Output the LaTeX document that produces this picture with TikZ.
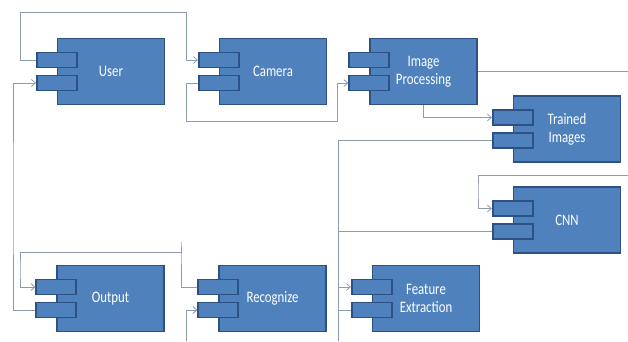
\documentclass[tikz,border=0pt]{standalone}
\usepackage{fontspec}
\setmainfont{Carlito}[FakeStretch=0.8]
\usetikzlibrary{arrows.meta}
\definecolor{compfill}{HTML}{4F81BD}
\definecolor{compline}{HTML}{2E5183}
\definecolor{linkgray}{HTML}{8C9DB2}
\begin{document}
\begin{tikzpicture}[x=1pt, y=-1pt, >={Straight Barb[length=4pt,width=7pt]}]
      \tikzset{
  component/.style={
    rectangle,
    draw=compline,
    fill=compfill,
    line width=1.6pt,
    minimum width=107pt,
    minimum height=66pt,
    text=white,
    align=center,
    font=\fontsize{16}{18}\selectfont
  },
  tab/.style={
    rectangle,
    draw=compline,
    fill=compfill,
    line width=1.6pt,
    minimum width=40pt,
    minimum height=15pt,
    inner sep=0pt
  },
  link/.style={
    draw=linkgray,
    line width=0.8pt
  }
}
\useasboundingbox (0,0) rectangle (628,341);

% components
\node [component] (user) at (111,71.5) {User};
\node [component] (camera) at (273,71.5) {Camera};
\node [component] (improc) at (423.5,71.5) {Image\\Processing};
\node [component] (trained) at (567,129) {Trained\\Images};
\node [component] (cnn) at (567,220) {CNN};
\node [component] (output) at (110.5,298.5) {Output};
\node [component] (recog) at (272.5,298.5) {Recognize};
\node [component] (feature) at (426,298.5) {Feature\\Extraction};

\foreach \n in {user,camera,improc,trained,cnn,output,recog,feature} {
  \node [tab] (\n-a) at ([yshift=11.5pt]\n.west) {};
  \node [tab] (\n-b) at ([yshift=-11.5pt]\n.west) {};
}

% free ends at the picture's border
\coordinate (edgeR) at (628,71.5);
\coordinate (cnnIn) at (628,175);
\coordinate (trunk) at (338,341);
\coordinate (recogIn) at (186,341);

% connectors
\draw [link,->] (user-a.west) -| (20,12) -- (186,12) |- (camera-a.west);
\draw [link,->] (camera-b.west) -| (186,121) -- (337,121) |- (improc-b.west);
\draw [link,->] (output-b.west) -| (13,200) |- (user-b.west);
\draw [link] (improc.east) -- (edgeR);
\draw [link,->] (improc.south) |- (trained-a.west);
\draw [link] (trained-b.west) -| (trunk);
\draw [link] (cnn-b.west) -- (cnn-b.west -| trunk);
\draw [link,->] (cnnIn) -| (478,190) |- (cnn-a.west);
\draw [link,->] (feature-a.west -| trunk) -- (feature-a.west);
\draw [link] (feature-b.west) -- (feature-b.west -| trunk);
\draw [link,->] (recog-a.west) -| (181,242) -- (181,252) -| (20,270) |- (output-a.west);
\draw [link,->] (recogIn) |- (recog-b.west);
      \end{tikzpicture}
\end{document}
